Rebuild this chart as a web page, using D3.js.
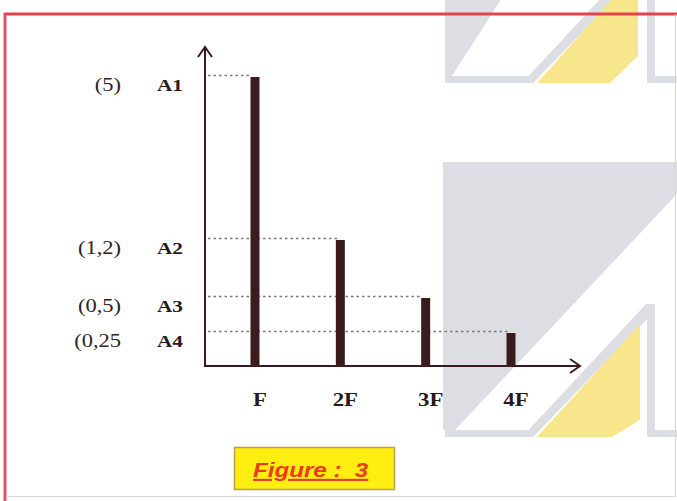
<!DOCTYPE html>
<html lang="fr">
    <head>
        <meta charset="utf-8">
        <title>Figure 3</title>
        <script src="https://cdn.jsdelivr.net/npm/d3@7"></script>
        <style>
            body { margin: 0; background: #fff; }
            svg { display: block; }
        </style>
    </head>
    <body>
        <div class="chart"></div>

        <script>
            // harmonics and amplitudes
            var harmonics = ["F", "2F", "3F", "4F"];
            var amplitudes = [5, 1.2, 0.5, 0.25];
            var ampNames = ["A1", "A2", "A3", "A4"];
            var ampLabels = ["(5)", "(1,2)", "(0,5)", "(0,25"];

            var width = 677, height = 501;
            var ink = "#3a1c1e";

            var svg = d3.select(".chart").append("svg")
                .attr("width", width)
                .attr("height", height);

            // faint logo watermark in the background (two copies, top one cut off)
            var grey = "#dcdee3", yellow = "#f8e68c";
            function logo(dy) {
                var g = svg.append("g").attr("transform", "translate(0," + dy + ")");
                // big grey block (only the lower logo has the tall part)
                g.append("path").attr("fill", grey)
                    .attr("d", dy > 0
                        ? "M443,-192 L677,-192 L677,-160 L455,76 L443,76 Z"
                        : "M445,-30 L520,-30 L452,76 L445,76 Z");
                // bottom band of left part
                g.append("rect").attr("fill", grey).attr("x", 445).attr("y", 76).attr("width", 84).attr("height", 7);
                // thin slanted stroke
                g.append("path").attr("fill", grey)
                    .attr("d", "M646,-50 L654,-50 L654,-42 L533,83 L522,83 Z");
                // right vertical + bottom
                g.append("rect").attr("fill", grey).attr("x", 647).attr("y", -50).attr("width", 8).attr("height", 133);
                g.append("rect").attr("fill", grey).attr("x", 647).attr("y", 76).attr("width", 30).attr("height", 7);
                // yellow slab
                g.append("path").attr("fill", yellow)
                    .attr("d", dy > 0 ? "M640,-30 L640,66 L612,83 L537,83 Z"
                                      : "M638,-30 L638,56 L610,83 L537,83 Z");
            }
            logo(0);
            logo(354);

            // page frame
            svg.append("line").attr("x1", 4).attr("x2", 677).attr("y1", 14).attr("y2", 14)
                .attr("stroke", "#e8404c").attr("stroke-width", 3);
            svg.append("line").attr("x1", 5).attr("x2", 5).attr("y1", 13).attr("y2", 501)
                .attr("stroke", "#e8505e").attr("stroke-width", 3);
            svg.append("line").attr("x1", 675.5).attr("x2", 675.5).attr("y1", 14).attr("y2", 497)
                .attr("stroke", "#f4c8cc").attr("stroke-width", 1);
            svg.append("line").attr("x1", 6).attr("x2", 676).attr("y1", 496.5).attr("y2", 496.5)
                .attr("stroke", "#d8d8d8").attr("stroke-width", 1);

            // scales -- the figure isn't drawn to scale, so the amplitude axis is piecewise
            var x = d3.scalePoint()
                .domain(harmonics)
                .range([255, 511]);

            var y = d3.scaleLinear()
                .domain([0, 0.25, 0.5, 1.2, 5])
                .range([366, 333, 298, 240, 77]);

            var x0 = 205;
            var data = harmonics.map(function(h, i) {
                return {h: h, a: amplitudes[i], name: ampNames[i], label: ampLabels[i]};
            });

            // dotted guides from axis to the bar tops
            svg.selectAll(".guide")
                .data(data)
                .enter().append("line")
                .attr("class", "guide")
                .attr("x1", x0 + 3)
                .attr("x2", function(d) { return x(d.h) - 3; })
                .attr("y1", function(d) { return y(d.a) - 1.5; })
                .attr("y2", function(d) { return y(d.a) - 1.5; })
                .attr("stroke", "#777")
                .attr("stroke-width", 1.5)
                .attr("stroke-dasharray", "2.5,3");

            // bars
            var barW = 9;
            svg.selectAll(".bar")
                .data(data)
                .enter().append("rect")
                .attr("class", "bar")
                .attr("x", function(d) { return x(d.h) - barW / 2; })
                .attr("y", function(d) { return y(d.a); })
                .attr("width", barW)
                .attr("height", function(d) { return y(0) - y(d.a); })
                .attr("fill", ink);

            // axes with open arrow heads
            svg.append("line").attr("x1", x0).attr("x2", x0).attr("y1", y(0) + 1).attr("y2", 47)
                .attr("stroke", ink).attr("stroke-width", 2);
            svg.append("path").attr("d", "M198,57 L205,47 L212,57")
                .attr("fill", "none").attr("stroke", ink).attr("stroke-width", 2);
            svg.append("line").attr("x1", x0 - 1).attr("x2", 580).attr("y1", y(0)).attr("y2", y(0))
                .attr("stroke", ink).attr("stroke-width", 2);
            svg.append("path").attr("d", "M570,359 L580,366 L570,373")
                .attr("fill", "none").attr("stroke", ink).attr("stroke-width", 2);

            // the scanned text is a bit stretched sideways
            function at(px, py, sx) {
                return "translate(" + px + "," + py + ") scale(" + sx + ",1)";
            }

            // amplitude labels
            svg.selectAll(".amp-val")
                .data(data)
                .enter().append("text")
                .attr("class", "amp-val")
                .attr("transform", function(d) { return at(121, y(d.a) + 8, 1.25); })
                .attr("dy", "0.35em")
                .attr("text-anchor", "end")
                .style("font", "18px 'Liberation Serif', serif")
                .attr("fill", "#2e2426")
                .text(function(d) { return d.label; });

            svg.selectAll(".amp-name")
                .data(data)
                .enter().append("text")
                .attr("class", "amp-name")
                .attr("transform", function(d) { return at(157, y(d.a) + 8, 1.25); })
                .attr("dy", "0.35em")
                .style("font", "bold 17px 'Liberation Serif', serif")
                .attr("fill", "#261a1c")
                .text(function(d) { return d.name; });

            // harmonic labels under the axis
            svg.selectAll(".harm")
                .data(harmonics)
                .enter().append("text")
                .attr("class", "harm")
                .attr("transform", function(d) { return at(x(d) + 5, 406, 1.2); })
                .attr("text-anchor", "middle")
                .style("font", "bold 19px 'Liberation Serif', serif")
                .attr("fill", "#261a1c")
                .text(function(d) { return d; });

            // caption box
            svg.append("rect")
                .attr("x", 234.5).attr("y", 447.5).attr("width", 160).attr("height", 42)
                .attr("fill", "#ffee10").attr("stroke", "#b5a24a").attr("stroke-width", 1.5);
            svg.append("text")
                .attr("transform", at(253, 477, 1.15))
                .style("font", "italic bold 21px 'Liberation Sans', Arial, sans-serif")
                .style("text-decoration", "underline")
                .attr("fill", "#ec3a1c")
                .attr("xml:space", "preserve")
                .text("Figure :  3");
        </script>
    </body>
</html>
